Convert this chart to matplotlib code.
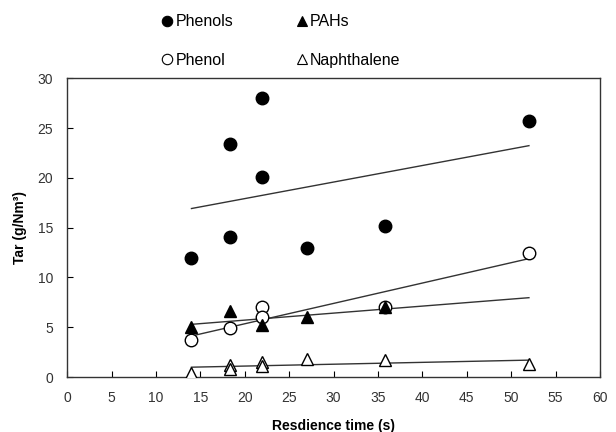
import numpy as np
import matplotlib.pyplot as plt
from matplotlib.lines import Line2D

plt.rcParams['font.family'] = ['Liberation Sans', 'DejaVu Sans']

# residence time (s) and tar yields (g/Nm3)
phenols_t = [14, 18.3, 18.3, 21.9, 21.9, 27, 35.8, 52]
phenols_y = [12.0, 14.1, 23.4, 28.0, 20.1, 13.0, 15.2, 25.7]

pahs_t = [14, 18.3, 21.9, 27, 35.8]
pahs_y = [5.0, 6.6, 5.2, 6.0, 7.0]

phenol_t = [14, 18.3, 21.9, 21.9, 35.8, 52]
phenol_y = [3.7, 4.9, 7.0, 6.0, 7.0, 12.5]

naph_t = [14, 18.3, 18.3, 21.9, 21.9, 27, 35.8, 52]
naph_y = [0.4, 1.2, 0.8, 1.5, 1.1, 1.8, 1.7, 1.3]

fig = plt.figure(figsize=(6.16, 4.32), dpi=100)
ax = fig.add_axes([0.109, 0.127, 0.865, 0.692])

series = [
    (phenols_t, phenols_y, 'o', 'black', 'Phenols'),
    (phenol_t, phenol_y, 'o', 'white', 'Phenol'),
    (pahs_t, pahs_y, '^', 'black', 'PAHs'),
    (naph_t, naph_y, '^', 'white', 'Naphthalene'),
]

# linear trend over the full range of residence times
t_min, t_max = 14, 52
tt = np.array([t_min, t_max])
handles = []
for t, y, m, fc, name in series:
    k, b = np.polyfit(t, y, 1)
    ax.plot(tt, k * tt + b, color='#333333', lw=1.0, zorder=2)
    ax.plot(t, y, linestyle='none', marker=m, ms=9, mfc=fc, mec='black',
            mew=1.0, zorder=3)
    handles.append(Line2D([], [], linestyle='none', marker=m, ms=7.5,
                          mfc=fc, mec='black', mew=0.8, label=name))

ax.set_xlim(0, 60)
ax.set_ylim(0, 30)
ax.set_xticks(range(0, 61, 5))
ax.set_yticks(range(0, 31, 5))
ax.tick_params(direction='in', labelsize=10, labelcolor='#333333',
               length=4, width=0.8, pad=10)
for s in ax.spines.values():
    s.set_linewidth(1.0)
    s.set_color('#333333')

ax.set_xlabel('Resdience time (s)', fontsize=10, fontweight='bold', labelpad=10)
ax.set_ylabel('Tar (g/Nm³)', fontsize=10, fontweight='bold', labelpad=8)

fig.legend(handles=handles, ncol=2, loc='upper left',
           bbox_to_anchor=(0.238, 1.0), frameon=False, fontsize=11.5,
           handlelength=0.8, handletextpad=0.1, columnspacing=3.9,
           labelspacing=1.45)

fig.savefig('out.png', dpi=100)
